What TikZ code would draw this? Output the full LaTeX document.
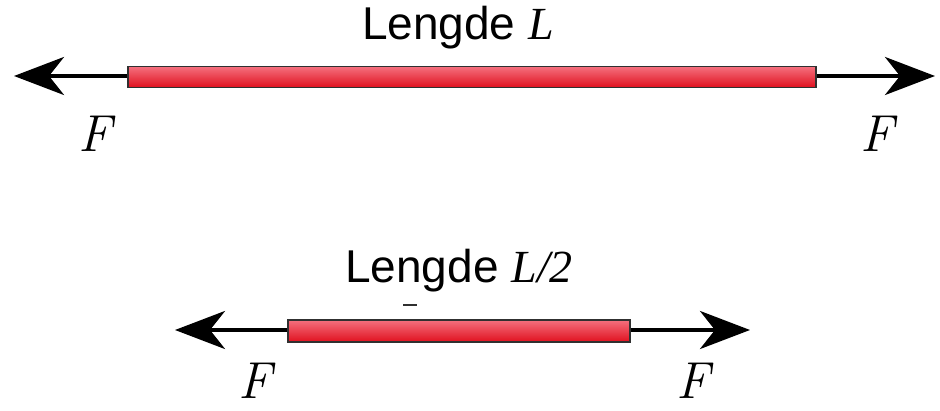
\documentclass[tikz,border=0pt]{standalone}
\usepackage{fontspec}
\setmainfont{Liberation Sans}
\newfontfamily\serifit{Liberation Serif}[ItalicFont={* Italic}]
\usetikzlibrary{arrows.meta}
\definecolor{rodtop}{HTML}{F4707E}
\definecolor{rodbot}{HTML}{E0101E}
\definecolor{rodedge}{HTML}{303030}
\newcommand\forcesym{{\fontfamily{lmr}\fontshape{it}\selectfont F}}
\tikzset{
  rod/.style={draw=rodedge, line width=1.5pt, top color=rodtop, bottom color=rodbot,
    rectangle, inner sep=0pt},
  force/.style={line width=4pt, -{Stealth[length=50pt, width=38pt, inset=15pt]}},
  flabel/.style={font=\fontsize{52}{56}\selectfont, inner sep=0pt, anchor=base,
    text depth=0pt},
  title/.style={font=\fontsize{46}{50}\selectfont, inner sep=0pt, anchor=base}
}
\begin{document}
\begin{tikzpicture}[x=1pt, y=-1pt]
  \useasboundingbox (0,0) rectangle (940,411);
  % long rod
  \node[rod, minimum width=688pt, minimum height=21pt] (rodA) at (472,77) {};
  \coordinate (tipAL) at (14,76);
  \coordinate (tipAR) at (935,76);
  \draw[force] (rodA.west |- tipAL) -- (tipAL);
  \draw[force] (rodA.east |- tipAR) -- (tipAR);
  \node[title] (lenA) at (458,40) {Lengde {\serifit\itshape L}};
  \node[flabel] (fAL) at (95,152) {\forcesym};
  \node[flabel] (fAR) at (877,152) {\forcesym};
  % half-length rod
  \node[rod, minimum width=342pt, minimum height=22pt] (rodB) at (459,331) {};
  \coordinate (tipBL) at (175,330);
  \coordinate (tipBR) at (750,330);
  \draw[force] (rodB.west |- tipBL) -- (tipBL);
  \draw[force] (rodB.east |- tipBR) -- (tipBR);
  \node[title] (lenB) at (459,283) {Lengde {\serifit\itshape L/2}};
  \draw[rodedge, line width=1.2pt] (403,305) -- (417,305);
  \node[flabel] (fBL) at (255,399) {\forcesym};
  \node[flabel] (fBR) at (693,399) {\forcesym};
\end{tikzpicture}
\end{document}
